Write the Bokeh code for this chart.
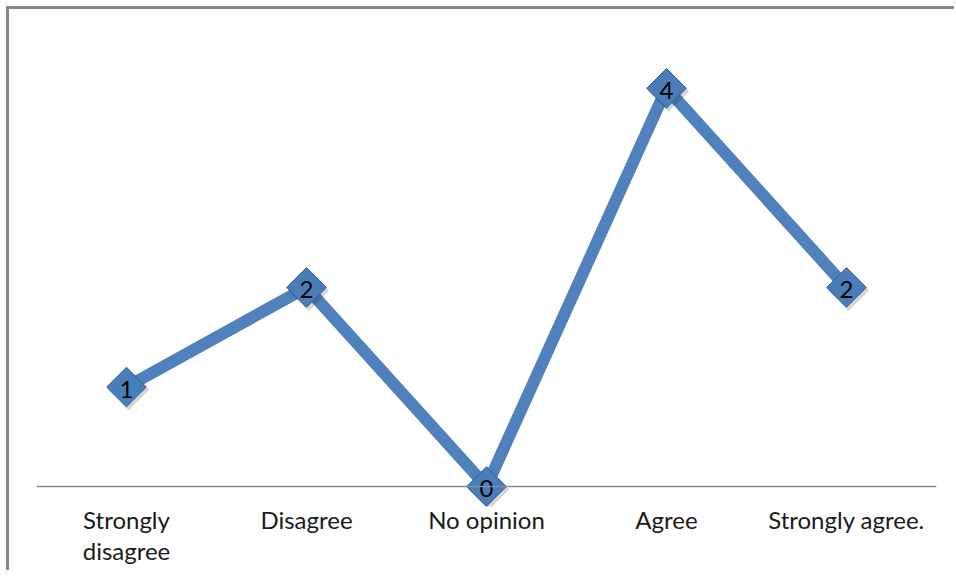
from bokeh.plotting import figure
from bokeh.models import ColumnDataSource, FactorRange, Range1d, Span
from bokeh.core.properties import value
from bokeh.transform import dodge
from bokeh.embed import file_html
from bokeh.resources import INLINE
import math

categories = ["Strongly\ndisagree", "Disagree", "No opinion", "Agree", "Strongly agree."]
counts = [1, 2, 0, 4, 2]
count_labels = [str(v) for v in counts]

src = ColumnDataSource(dict(cat=categories, val=counts, lab=count_labels))

p = figure(x_range=FactorRange(*categories, range_padding=0),
           y_range=Range1d(-0.2, 4.5),
           width=945, height=561,
           frame_width=900, frame_height=468,
           min_border_left=27, min_border_right=18,
           min_border_top=29, min_border_bottom=64,
           output_backend="svg", toolbar_location=None)
p.styles = {"border-top": "3px solid #878787", "border-left": "3px solid #878787",
            "margin-left": "6px", "margin-top": "6px"}
p.outline_line_color = None
p.background_fill_color = "white"
p.border_fill_color = "white"
p.xgrid.visible = False
p.ygrid.visible = False
p.yaxis.visible = False

xa = p.xaxis[0]
xa.axis_line_color = None
xa.major_tick_line_color = None
xa.minor_tick_line_color = None
xa.major_label_standoff = -8
xa.major_label_text_font = "Lato"
xa.major_label_text_font_size = "24px"
xa.major_label_text_color = "#1a1a1a"
xa.major_label_text_align = "center"
xa.major_label_text_line_height = 1.1

p.add_layout(Span(location=0, dimension="width", line_color="#8a8a8a", line_width=1.5))

p.line("cat", "val", source=src, line_color="#4F81BD", line_width=12, line_join="round")
# soft shadow
p.scatter(dodge("cat", 0.012, range=p.x_range), dodge("val", -0.03), source=src,
          marker="square", size=29, angle=math.pi / 4,
          fill_color="#000000", fill_alpha=0.16, line_color=None)
p.scatter("cat", "val", source=src, marker="square", size=28, angle=math.pi / 4,
          fill_color="#4A7EBB", line_color="#2E5E98", line_width=1)
p.text("cat", "val", text="lab", source=src, text_align="center", text_baseline="middle",
       text_font=value("Lato"), text_font_size="24px", text_color="#000000", y_offset=2)

open("out.html", "w").write(file_html(p, INLINE))
